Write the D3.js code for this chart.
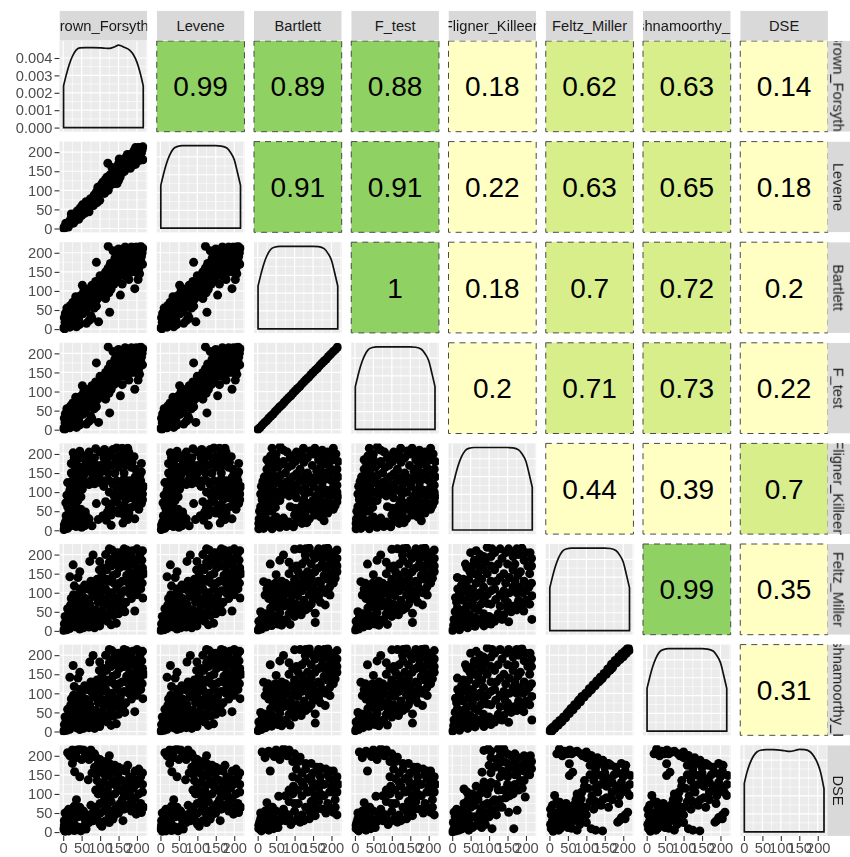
<!DOCTYPE html>
<html><head><meta charset="utf-8">
<script src="https://cdn.jsdelivr.net/npm/d3@7"></script>
<style>html,body{margin:0;padding:0;background:#fff}svg{display:block;filter:blur(.3px)}text{font-family:"Liberation Sans",Arial,sans-serif}</style>
</head><body><svg id="c" width="850" height="857"></svg>
<script>
const variables=["Brown_Forsythe","Levene","Bartlett","F_test","Fligner_Killeen","Feltz_Miller","Krishnamoorthy_Lee","DSE"];
const rankTicks=[0,50,100,150,200];
const densityTicks=[0,0.001,0.002,0.003,0.004];
const correlations=[
[0.99,0.89,0.88,0.18,0.62,0.63,0.14],
[0.91,0.91,0.22,0.63,0.65,0.18],
[1,0.18,0.7,0.72,0.2],
[0.2,0.71,0.73,0.22],
[0.44,0.39,0.7],
[0.99,0.35],
[0.31]];
const densityX=[1,8,16,25,35,45,60,80,110,125,140,150,165,180,190,200,208,217];
const densBrown=[.00240,.0030,.0036,.0041,.00445,.00458,.00460,.00460,.00457,.00455,.00465,.00474,.00462,.00445,.00420,.00375,.0032,.0024];
const densFlat=[.0024,.0030,.0036,.0041,.00445,.00458,.00463,.00463,.00463,.00463,.00463,.00463,.00461,.00450,.00425,.00385,.0032,.0024];
const densDSE=[.0027,.0033,.0038,.0042,.00445,.00455,.00458,.00458,.00452,.00448,.00455,.00460,.00458,.00445,.00420,.00380,.0033,.0024];
const AA=[[1,1],[3,4],[5,2],[8,8],[10,5],[12,14],[15,10],[18,20],[20,14],[24,18],[26,32],[22,38],[30,22],[34,28],[36,40],[40,30],[44,36],[48,46],[50,34],[54,44],[56,56],[52,62],[60,50],[64,60],[68,70],[72,58],[76,62],[80,74],[88,78],[92,68],[99,74],[84,88],[90,96],[96,100],[100,90],[106,104],[110,100],[116,112],[120,118],[124,110],[130,122],[136,128],[142,130],[146,118],[140,140],[148,148],[144,160],[152,142],[156,152],[121,171],[150,170],[158,164],[162,158],[168,176],[172,168],[176,160],[180,180],[184,172],[186,196],[190,186],[194,176],[198,192],[200,200],[204,188],[208,204],[210,196],[212,212],[216,214],[214,206],[216,180],[205,212],
[7,14],[14,4],[21,26],[28,14],[32,20],[38,46],[42,24],[46,54],[58,40],[62,70],[66,50],[70,44],[74,78],[82,60],[86,68],[94,108],[102,96],[104,116],[112,92],[108,122],[114,128],[122,100],[118,134],[126,140],[128,114],[134,148],[138,118],[132,160],[150,126],[154,134],[160,146],[152,182],[164,172],[166,150],[170,186],[178,170],[182,158],[174,194],[186,164],[188,178],[192,204],[196,168],[202,210],[206,178],[196,212],[210,186],[212,198],[201,182]];
const BA=[[1,3],[4,1],[8,8],[5,18],[10,25],[3,30],[14,12],[18,5],[22,18],[25,28],[12,40],[18,48],[6,42],[10,55],[20,62],[26,70],[30,58],[35,45],[28,35],[36,6],[42,25],[45,40],[50,55],[40,75],[34,85],[48,88],[55,70],[60,62],[63,15],[70,22],[75,35],[78,28],[96,19],[126,44],[52,115],[60,95],[68,105],[72,85],[80,70],[85,90],[90,60],[92,78],[100,85],[78,115],[88,125],[96,105],[104,120],[110,95],[115,80],[120,110],[126,132],[100,140],[112,135],[90,175],[115,150],[122,160],[130,105],[138,118],[134,148],[140,170],[148,135],[155,89],[160,118],[165,140],[150,155],[158,175],[145,190],[122,217],[135,205],[150,210],[160,198],[170,185],[170,160],[178,130],[185,150],[194,106],[203,130],[205,160],[215,170],[212,190],[195,175],[180,200],[168,215],[185,215],[200,205],[210,217],[216,212],[192,195],[175,170],
[7,35],[13,22],[16,35],[23,42],[31,20],[33,68],[38,58],[44,12],[47,72],[53,40],[56,100],[62,48],[65,80],[58,82],[72,60],[74,100],[82,108],[84,55],[87,72],[94,90],[98,112],[106,105],[108,130],[112,110],[118,125],[124,95],[128,145],[132,125],[136,158],[142,125],[146,148],[152,170],[156,142],[162,155],[166,175],[172,148],[176,195],[180,165],[184,178],[190,160],[196,150],[200,185],[205,195],[210,180],[198,215],[176,208],[155,192],[165,205],[188,205],[207,145],[214,200],[140,185],[128,172]];
const BB=[[1,1],[6,5],[12,12],[18,18],[24,23],[30,30],[36,36],[42,41],[48,48],[54,54],[60,60],[66,65],[72,72],[78,78],[84,84],[90,89],[96,96],[102,102],[108,108],[114,113],[120,120],[126,126],[132,132],[138,137],[144,144],[150,150],[156,156],[162,161],[168,168],[174,174],[180,180],[186,185],[192,192],[198,198],[204,204],[210,209],[216,216]];
const CA=[[2,2],[6,8],[12,5],[3,14],[15,18],[10,28],[20,12],[25,22],[8,38],[18,42],[28,35],[35,10],[42,14],[50,8],[58,12],[68,20],[62,36],[52,30],[45,45],[30,50],[12,62],[22,68],[35,62],[48,55],[60,48],[14,88],[10,92],[25,95],[32,85],[20,115],[30,122],[40,112],[18,105],[28,135],[38,128],[22,150],[32,160],[22,175],[35,178],[48,165],[50,150],[60,170],[45,190],[27,203],[45,207],[55,195],[70,205],[88,214],[85,190],[70,185],[80,160],[92,170],[100,150],[110,190],[120,205],[135,212],[145,216],[150,195],[165,205],[178,205],[192,193],[212,175],[212,153],[130,170],[140,150],[150,165],[170,170],[185,165],[60,125],[75,130],[85,122],[100,125],[110,115],[125,130],[135,120],[145,105],[155,125],[165,135],[180,130],[195,140],[210,130],[218,115],[215,95],[205,105],[190,110],[175,100],[160,90],[170,80],[185,85],[200,80],[212,70],[205,55],[185,60],[170,60],[155,65],[140,50],[130,40],[150,45],[125,60],[115,75],[162,19],[175,28],[194,30],[165,40],[90,70],[95,28],[117,26],[130,13],
[6,22],[14,30],[22,30],[30,15],[38,38],[16,52],[7,72],[18,78],[27,60],[40,78],[48,88],[37,100],[52,108],[12,125],[46,132],[56,145],[38,145],[65,155],[30,190],[60,185],[75,170],[90,148],[102,170],[115,165],[122,150],[118,180],[130,195],[142,180],[158,182],[172,188],[187,178],[196,160],[205,120],[198,125],[185,120],[172,118],[160,110],[150,95],[138,90],[125,100],[112,130],[95,135],[70,120],[50,120],[178,90],[192,95],[205,85],[215,80],[195,65],[178,45],[160,55],[145,75],[133,70],[120,48],[108,38],[78,12],[70,30],[55,45],[40,25],[215,110],[208,145],[165,150],[100,205],[112,212],[160,215],[175,215],[80,145],[145,130],[68,195]];
const CB=[[3,4],[3,18],[8,8],[4,30],[12,20],[5,50],[8,62],[16,5],[25,12],[39,4],[30,25],[20,38],[14,45],[25,58],[38,50],[50,35],[48,18],[60,8],[78,10],[97,9],[85,22],[70,32],[105,22],[120,18],[125,32],[100,40],[140,30],[155,40],[170,35],[180,25],[190,45],[205,55],[215,75],[200,70],[185,60],[165,55],[145,60],[130,50],[115,60],[100,58],[88,62],[60,78],[45,72],[30,72],[12,80],[8,95],[20,100],[35,92],[10,115],[25,120],[40,110],[55,100],[72,100],[85,90],[105,85],[125,80],[150,78],[170,80],[195,90],[215,100],[205,112],[185,105],[165,100],[140,100],[115,105],[95,115],[75,125],[55,130],[32,135],[18,140],[25,160],[40,150],[55,165],[75,150],[95,140],[115,130],[135,125],[155,130],[175,125],[200,130],[218,140],[205,155],[180,150],[160,155],[135,150],[115,160],[92,170],[70,180],[50,185],[35,195],[39,215],[61,219],[80,205],[95,195],[110,190],[124,215],[135,190],[150,200],[165,185],[185,175],[205,185],[218,180],[205,215],[190,205],[175,210],[155,215],
[6,14],[14,30],[22,18],[33,14],[44,28],[55,22],[66,18],[90,14],[74,22],[110,32],[133,20],[115,42],[150,52],[162,45],[175,48],[195,55],[210,65],[217,88],[208,92],[190,75],[175,70],[160,68],[138,70],[122,70],[48,60],[18,60],[28,85],[16,90],[42,85],[65,92],[95,100],[128,95],[158,88],[180,95],[198,105],[175,112],[152,115],[128,112],[105,120],[82,110],[65,115],[45,122],[28,108],[14,128],[22,140],[45,140],[62,145],[85,130],[105,148],[125,140],[145,138],[165,140],[188,135],[210,125],[215,118],[195,145],[170,165],[148,170],[125,178],[102,180],[82,165],[62,172],[45,165],[30,178],[25,185],[50,200],[70,210],[88,190],[105,205],[120,198],[142,208],[170,198],[195,195],[212,200],[180,188],[215,160],[195,165]];
const DA=[[1,1],[5,8],[10,3],[3,18],[14,15],[8,28],[18,6],[24,20],[15,38],[26,40],[12,58],[20,68],[30,62],[35,10],[40,25],[45,5],[55,8],[50,35],[42,50],[35,75],[28,95],[22,85],[30,118],[18,142],[27,173],[45,155],[40,140],[60,18],[70,10],[65,35],[58,55],[48,70],[50,95],[45,110],[70,45],[80,25],[85,8],[99,13],[130,16],[144,20],[120,25],[95,35],[110,45],[88,55],[72,70],[60,85],[65,110],[80,90],[95,75],[110,65],[130,55],[150,45],[167,50],[140,70],[120,85],[100,100],[85,115],[75,130],[95,125],[115,110],[130,100],[150,80],[170,75],[194,52],[185,85],[216,86],[200,95],[165,105],[145,110],[125,130],[105,145],[118,160],[72,182],[81,199],[99,182],[115,200],[125,215],[135,190],[130,170],[145,150],[160,130],[180,120],[195,130],[208,138],[215,165],[200,165],[180,155],[165,170],[148,180],[150,205],[165,215],[185,195],[200,215],[215,210],[205,190],[175,200],[192,175],
[8,12],[18,24],[5,38],[24,50],[16,48],[32,45],[36,35],[28,75],[38,92],[44,88],[52,58],[55,78],[62,45],[63,70],[76,58],[82,40],[92,22],[105,28],[110,30],[100,50],[122,45],[136,40],[150,62],[162,65],[128,72],[108,82],[92,88],[78,102],[58,120],[72,118],[88,100],[106,115],[122,100],[138,88],[155,92],[178,100],[190,110],[210,110],[214,125],[198,115],[172,130],[152,125],[138,125],[118,135],[92,135],[108,125],[135,145],[152,165],[172,145],[186,140],[200,150],[178,175],[160,190],[142,205],[132,212],[156,195],[172,212],[188,210],[208,200],[198,182],[213,185],[220,150],[180,185],[125,180],[110,165],[98,160]];
const DB=[[1,2],[5,10],[10,5],[3,25],[15,18],[12,35],[22,10],[28,25],[20,45],[8,50],[20,94],[16,129],[34,175],[50,147],[35,60],[45,30],[38,14],[55,18],[88,17],[70,28],[60,48],[42,75],[30,85],[50,100],[40,115],[25,110],[48,125],[70,65],[85,45],[100,38],[118,42],[130,55],[156,46],[156,22],[145,70],[183,68],[196,94],[165,90],[150,100],[125,80],[105,70],[90,78],[70,90],[62,110],[65,130],[80,115],[100,105],[115,115],[135,115],[175,110],[195,115],[210,138],[190,135],[165,130],[145,140],[120,145],[100,135],[85,150],[70,199],[100,214],[85,180],[105,170],[129,199],[120,175],[145,175],[165,165],[185,160],[205,170],[215,155],[215,190],[195,190],[175,190],[150,200],[165,215],[190,217],[215,212],[140,217],
[8,18],[18,28],[30,15],[25,38],[33,45],[42,40],[50,62],[55,35],[65,15],[78,30],[62,78],[38,95],[52,85],[58,95],[34,108],[28,125],[75,75],[88,62],[98,55],[110,58],[125,65],[138,60],[150,82],[170,75],[160,105],[140,95],[120,105],[108,92],[92,95],[78,100],[75,125],[55,115],[92,120],[108,125],[125,130],[150,120],[170,125],[185,100],[205,125],[180,145],[155,155],[135,155],[110,155],[95,165],[130,185],[155,190],[175,175],[195,175],[210,180],[205,200],[180,205],[160,205],[115,215],[130,215],[180,215],[200,205],[60,185],[140,135],[215,170],[200,150]];
const DC=[[1,1],[5,30],[10,8],[15,20],[20,3],[28,12],[9,87],[14,60],[8,50],[25,45],[35,25],[42,8],[55,15],[50,40],[86,13],[70,22],[105,18],[135,30],[153,24],[194,52],[216,30],[210,70],[175,55],[160,50],[120,35],[100,38],[85,45],[70,55],[40,65],[30,80],[55,75],[14,140],[25,120],[35,105],[20,100],[50,100],[65,90],[85,85],[105,70],[130,65],[150,75],[180,80],[216,92],[200,105],[175,100],[155,100],[130,95],[105,105],[85,115],[65,125],[45,135],[30,135],[60,150],[36,175],[50,205],[60,185],[75,165],[95,150],[120,130],[145,125],[170,130],[195,130],[215,125],[210,150],[185,155],[165,160],[140,150],[115,160],[90,180],[75,200],[95,219],[115,205],[135,190],[153,215],[165,195],[189,217],[211,205],[195,185],[180,200],[130,215],
[4,15],[12,25],[22,30],[32,38],[18,45],[30,55],[42,45],[50,25],[62,12],[62,35],[78,30],[92,28],[115,25],[125,45],[140,42],[150,60],[168,65],[190,65],[200,80],[178,70],[142,85],[118,82],[95,72],[78,70],[60,60],[45,88],[25,85],[12,75],[38,120],[15,110],[55,110],[75,100],[95,95],[115,110],[140,105],[165,115],[185,115],[208,115],[192,100],[178,145],[155,140],[130,140],[105,130],[80,135],[70,145],[48,155],[40,165],[55,170],[70,180],[85,160],[105,170],[125,175],[150,175],[170,175],[205,170],[215,170],[200,205],[170,205],[145,205],[105,195],[85,195],[65,210],[215,190],[175,215],[108,215]];
const DD=[[1,2],[4,7],[8,3],[10,12],[15,9],[18,20],[24,17],[28,29],[34,26],[38,38],[44,36],[48,48],[54,47],[58,60],[64,57],[68,70],[74,68],[78,80],[84,78],[88,92],[94,90],[98,100],[104,100],[108,112],[114,110],[118,122],[124,120],[128,132],[134,130],[138,142],[144,140],[148,152],[154,150],[158,164],[164,160],[168,176],[172,170],[178,186],[182,180],[188,196],[192,190],[196,204],[200,196],[204,210],[208,204],[212,214],[216,212],[214,218],
[6,1],[12,8],[30,24],[52,52],[82,84],[110,107],[140,136],[170,166],[190,188],[206,207],[210,216]];
const EA=[[1,8],[5,2],[10,12],[15,3],[22,14],[30,4],[40,6],[48,3],[8,25],[20,32],[25,45],[12,42],[5,50],[35,50],[15,60],[30,68],[45,65],[36,85],[55,55],[58,35],[70,25],[65,45],[80,50],[90,40],[75,70],[88,65],[100,21],[105,15],[135,34],[162,30],[125,45],[110,55],[100,75],[118,70],[140,60],[150,50],[130,80],[112,90],[95,100],[100,120],[120,110],[140,100],[155,75],[175,70],[198,47],[212,51],[190,70],[210,75],[195,90],[170,95],[150,115],[135,135],[115,145],[100,160],[68,137],[45,145],[31,158],[78,155],[95,180],[110,170],[130,165],[150,140],[170,120],[190,115],[215,105],[205,130],[180,145],[160,165],[140,175],[215,155],[195,160],[175,175],[115,185],[90,195],[75,215],[60,205],[45,217],[25,215],[12,208],[35,195],[25,180],[50,190],[70,190],
[3,18],[18,22],[28,25],[38,14],[12,55],[25,58],[40,40],[48,50],[3,30],[55,15],[62,8],[72,40],[82,30],[95,30],[115,30],[125,25],[100,50],[120,60],[140,45],[150,70],[165,60],[185,55],[205,62],[218,65],[185,85],[160,85],[128,95],[108,105],[88,110],[92,135],[110,130],[128,125],[145,120],[162,105],[180,105],[205,100],[215,125],[198,125],[178,130],[160,135],[145,155],[125,150],[108,155],[90,150],[85,170],[100,190],[125,180],[150,170],[170,160],[190,140],[210,145],[205,165],[85,205],[55,215],[35,208],[18,200],[38,215],[65,195],[150,155],[75,205],[100,170],[125,200]];
const EB=[[3,9],[10,3],[5,25],[18,15],[30,5],[43,9],[25,30],[15,40],[8,50],[35,28],[52,26],[25,77],[40,65],[20,55],[57,94],[50,55],[65,45],[75,30],[90,20],[115,26],[85,45],[100,55],[120,45],[140,35],[156,43],[205,52],[215,45],[175,60],[130,65],[110,75],[85,80],[95,100],[120,95],[145,80],[165,80],[190,75],[210,85],[195,105],[170,100],[145,110],[125,120],[97,120],[110,140],[135,140],[160,125],[180,125],[205,125],[219,125],[215,145],[195,140],[170,145],[150,155],[130,165],[105,165],[34,160],[205,160],[185,165],[169,170],[145,180],[115,196],[95,185],[80,200],[70,218],[50,215],[30,212],[12,210],[20,195],[45,198],[60,190],
[14,8],[22,22],[38,15],[3,18],[8,35],[30,45],[45,35],[55,12],[35,60],[60,28],[70,60],[75,48],[100,30],[80,30],[125,30],[110,40],[140,55],[160,60],[185,50],[195,65],[210,65],[150,65],[100,75],[75,95],[85,110],[108,110],[135,105],[155,95],[180,95],[205,105],[165,115],[148,130],[120,130],[95,145],[120,155],[145,145],[165,160],[190,150],[210,135],[170,130],[130,180],[100,205],[110,185],[160,170],[195,160],[65,208],[40,205],[25,205],[85,215],[200,120],[215,105]];
const EC=[[1,1],[5,9],[10,3],[3,25],[15,15],[5,52],[12,40],[25,8],[22,28],[35,12],[30,40],[20,55],[45,5],[55,12],[45,30],[40,50],[32,75],[50,65],[32,113],[45,95],[60,85],[60,40],[72,25],[75,50],[90,20],[108,9],[167,9],[100,40],[85,70],[105,60],[120,45],[153,52],[176,57],[135,65],[115,85],[95,100],[75,100],[65,120],[86,131],[81,157],[105,130],[125,110],[145,90],[165,100],[198,92],[190,115],[170,125],[150,125],[130,145],[105,155],[126,179],[150,160],[175,150],[195,135],[215,166],[205,150],[190,175],[170,185],[140,185],[86,214],[105,212],[125,218],[140,218],[160,200],[180,195],[212,200],[200,190],
[8,16],[18,5],[28,18],[15,30],[8,40],[38,25],[22,42],[12,60],[28,58],[50,18],[65,18],[80,12],[48,42],[68,38],[85,38],[78,62],[60,70],[42,82],[70,85],[55,100],[40,105],[90,50],[110,50],[95,75],[125,65],[110,80],[130,85],[100,115],[80,115],[120,125],[140,110],[155,95],[160,115],[180,110],[185,135],[210,150],[205,170],[170,150],[150,145],[135,160],[115,170],[100,175],[120,190],[150,180],[165,170],[180,165],[195,160],[215,185],[195,200],[170,205],[150,205],[130,200],[105,195],[98,218]];
const ED=[[5,9],[10,2],[3,20],[15,15],[25,5],[35,18],[18,30],[5,45],[15,50],[8,70],[14,96],[20,80],[30,65],[40,40],[50,25],[58,52],[60,10],[75,5],[45,75],[65,70],[75,40],[90,35],[100,25],[113,9],[125,5],[144,3],[86,87],[100,65],[120,60],[75,100],[95,120],[115,95],[131,105],[145,85],[160,65],[185,26],[195,38],[212,52],[205,45],[170,85],[190,95],[217,96],[205,115],[180,120],[155,120],[140,148],[120,135],[95,135],[54,148],[63,157],[54,179],[27,218],[40,212],[55,215],[68,210],[85,205],[100,205],[113,201],[130,195],[145,188],[160,180],[167,175],[180,170],[207,175],[220,148],[200,145],[175,150],[150,155],[125,165],[110,175],[20,205],[35,200],
[12,8],[20,12],[30,10],[8,30],[3,60],[22,50],[30,40],[40,25],[50,12],[28,78],[40,58],[52,40],[65,30],[70,55],[55,65],[82,20],[85,55],[72,85],[85,70],[100,45],[110,80],[125,80],[140,70],[155,90],[170,105],[188,75],[190,110],[210,105],[218,125],[195,130],[170,130],[160,140],[140,125],[125,115],[105,115],[88,105],[110,150],[130,150],[150,135],[185,155],[205,160],[195,180],[150,170],[135,180],[120,185],[100,195],[75,212],[48,205],[90,200],[205,35],[190,30],[100,210],[60,205]];
const scatterGrid=[[AA],[BA,BA],[BA,BA,BB],[CA,CA,CB,CB],[DA,DA,DB,DB,DC],[DA,DA,DB,DB,DC,DD],[EA,EA,EB,EB,EC,ED,ED]];
const densities=[densBrown,densFlat,densFlat,densFlat,densFlat,densFlat,densFlat,densDSE];

const svg=d3.select("#c");
const pw=87.7,ph=90.7,x0=59.5,y0=41,dx=97.25,dy=100.6;
const xS=d3.scaleLinear().domain([-10,227.7]).range([0,pw]);
const yS=d3.scaleLinear().domain([-10,227.7]).range([ph,0]);
const corrFill=d3.scaleThreshold().domain([0.5,0.8]).range(["#FFFFC4","#D7EE8B","#90D163"]);
const mids=a=>a.slice(0,-1).map((v,i)=>(v+a[i+1])/2);
const defs=svg.append("defs");
const n=variables.length;
function background(g,ys,yt){
  g.append("rect").attr("width",pw).attr("height",ph).attr("fill","#EBEBEB");
  const mx=mids(rankTicks).concat([225]),my=mids(yt);
  g.selectAll(".mnx").data(mx).join("line").attr("x1",xS).attr("x2",xS).attr("y1",0).attr("y2",ph).attr("stroke","#fff").attr("stroke-width",.6);
  g.selectAll(".mny").data(my).join("line").attr("y1",ys).attr("y2",ys).attr("x1",0).attr("x2",pw).attr("stroke","#fff").attr("stroke-width",.6);
  g.selectAll(".mjx").data(rankTicks).join("line").attr("x1",xS).attr("x2",xS).attr("y1",0).attr("y2",ph).attr("stroke","#fff").attr("stroke-width",1.2);
  g.selectAll(".mjy").data(yt).join("line").attr("y1",ys).attr("y2",ys).attr("x1",0).attr("x2",pw).attr("stroke","#fff").attr("stroke-width",1.2);
}
for(let r=0;r<n;r++){
  const maxD=d3.max(densities[r]);
  const yD=d3.scaleLinear().domain([-0.05*maxD,1.05*maxD]).range([ph,0]);
  for(let c=0;c<n;c++){
    const g=svg.append("g").attr("transform",`translate(${x0+c*dx},${y0+r*dy})`);
    if(c>r){
      const v=correlations[r][c-r-1];
      g.append("rect").attr("width",pw).attr("height",ph).attr("fill",corrFill(v)).attr("stroke","#4a4a4a").attr("stroke-width",1).attr("stroke-dasharray","6 5");
      g.append("text").attr("x",pw/2).attr("y",ph/2+10).attr("text-anchor","middle").attr("font-size",28).attr("fill","#000").text(v);
    }else if(c===r){
      background(g,yD,densityTicks);
      const pts=densityX.map((x,i)=>[x,densities[r][i]]);
      const d=d3.line().x(p=>xS(p[0])).y(p=>yD(p[1])).curve(d3.curveMonotoneX)(pts);
      g.append("path").attr("d",d+`L${xS(217)},${yD(0)}L${xS(1)},${yD(0)}Z`).attr("fill","none").attr("stroke","#111").attr("stroke-width",1.7);
    }else{
      const id=`clip${r}_${c}`;
      defs.append("clipPath").attr("id",id).append("rect").attr("x",0).attr("y",0).attr("width",pw).attr("height",ph);
      background(g,yS,rankTicks);
      g.append("g").attr("clip-path",`url(#${id})`).selectAll("circle").data(scatterGrid[r-1][c]).join("circle")
        .attr("cx",p=>xS(p[0])).attr("cy",p=>yS(p[1])).attr("r",4.5).attr("fill","#000");
    }
    if(c===0){
      const ax=r===0?d3.axisLeft(yD).tickValues(densityTicks).tickFormat(d3.format(".3f")):d3.axisLeft(yS).tickValues(rankTicks);
      const a=g.append("g").call(ax.tickSize(5).tickPadding(2));
      a.select(".domain").remove();
      a.selectAll("line").attr("stroke","#333").attr("stroke-width",1.1);
      a.selectAll("text").attr("font-size",14.7).attr("fill","#4D4D4D").attr("font-family",'"Liberation Sans",Arial,sans-serif');
    }
    if(r===n-1){
      const a=g.append("g").attr("transform",`translate(0,${ph})`).call(d3.axisBottom(xS).tickValues(rankTicks).tickSize(5).tickPadding(2));
      a.select(".domain").remove();
      a.selectAll("line").attr("stroke","#333").attr("stroke-width",1.1);
      a.selectAll("text").attr("font-size",14.7).attr("fill","#4D4D4D").attr("font-family",'"Liberation Sans",Arial,sans-serif');
    }
  }
  const cid=`sc${r}`;
  defs.append("clipPath").attr("id",cid).append("rect").attr("width",pw).attr("height",30);
  const s=svg.append("g").attr("transform",`translate(${x0+r*dx},10.7)`).attr("clip-path",`url(#${cid})`);
  s.append("rect").attr("width",pw).attr("height",30).attr("fill","#D9D9D9");
  s.append("text").attr("x",pw/2).attr("y",20).attr("text-anchor","middle").attr("font-size",14.7).attr("fill","#1A1A1A").text(variables[r]);
  const rid=`sr${r}`;
  defs.append("clipPath").attr("id",rid).append("rect").attr("width",22.7).attr("height",ph);
  const t=svg.append("g").attr("transform",`translate(827.3,${y0+r*dy})`).attr("clip-path",`url(#${rid})`);
  t.append("rect").attr("width",22.7).attr("height",ph).attr("fill","#D9D9D9");
  t.append("text").attr("transform",`translate(6,${ph/2}) rotate(90)`).attr("text-anchor","middle").attr("font-size",14.7).attr("fill","#1A1A1A").text(variables[r]);
}
</script></body></html>
